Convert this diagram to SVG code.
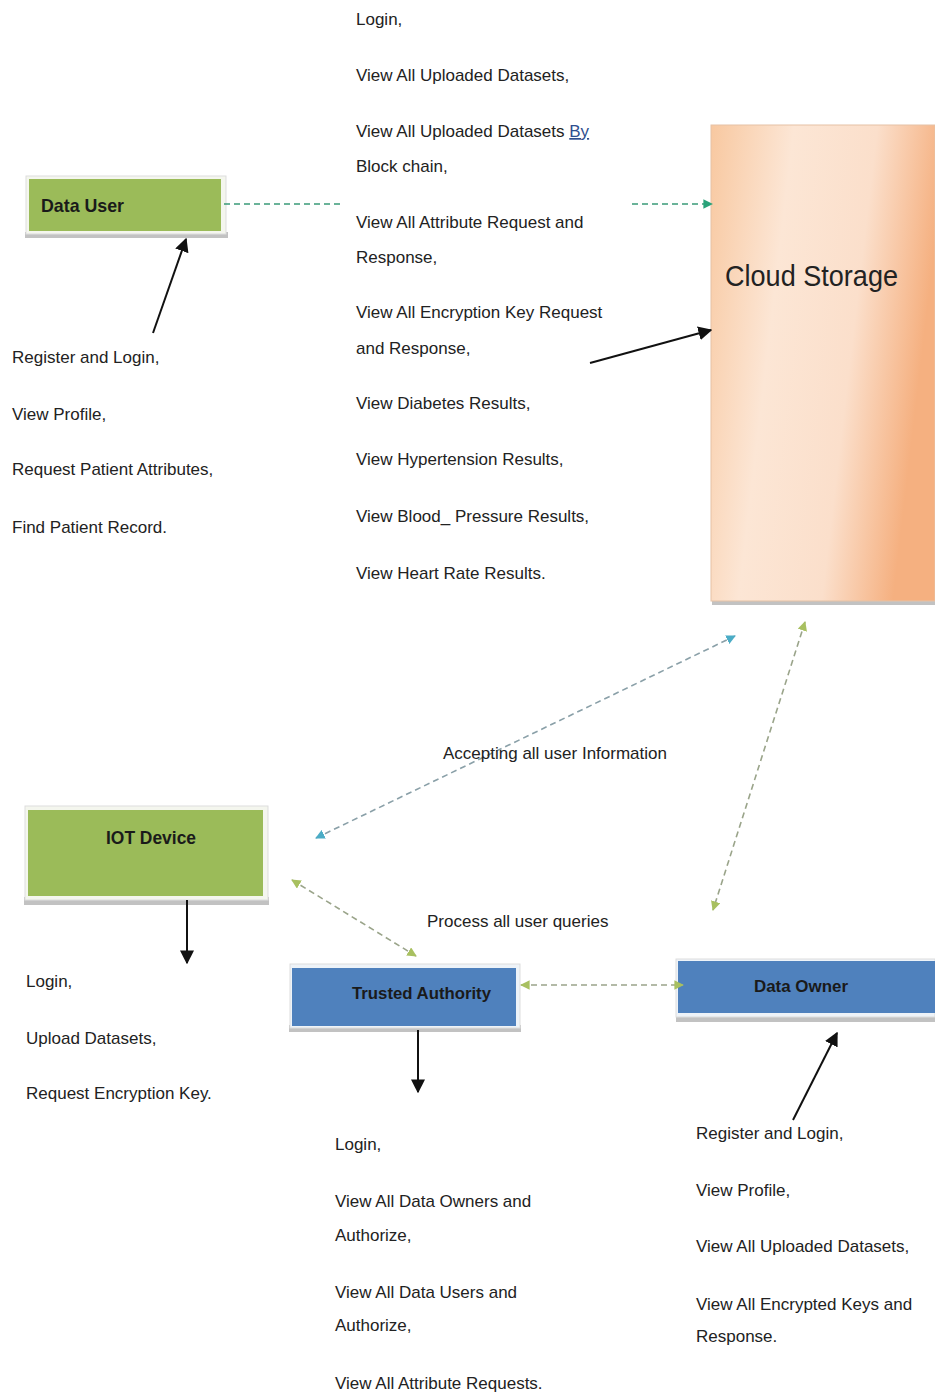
<svg xmlns="http://www.w3.org/2000/svg" width="935" height="1396" viewBox="0 0 935 1396">
<style>
.t{font-family:"Liberation Sans",Arial,sans-serif;font-size:17px;fill:#222}
.lbl{font-family:"Liberation Sans",Arial,sans-serif;font-weight:bold;fill:#1a1a1a}
.blk{stroke:#111;stroke-width:2;fill:none}
.dg{stroke:#3a9a78;stroke-width:1.6;stroke-dasharray:6 4;fill:none}
.dt{stroke:#8aa0a8;stroke-width:1.6;stroke-dasharray:6 4;fill:none}
.dol{stroke:#9aa48a;stroke-width:1.6;stroke-dasharray:6 4;fill:none}
.sh{fill:#9a9a9a;opacity:0.6}
</style>
<defs>
<marker id="ab" viewBox="0 0 10 10" refX="9" refY="5" markerWidth="7" markerHeight="7" orient="auto-start-reverse"><path d="M0,0 L10,5 L0,10 z" fill="#111"/></marker>
<marker id="ag" viewBox="0 0 10 10" refX="9" refY="5" markerWidth="6" markerHeight="6" orient="auto-start-reverse"><path d="M0,0 L10,5 L0,10 z" fill="#2aa37a"/></marker>
<marker id="at" viewBox="0 0 10 10" refX="9" refY="5" markerWidth="6" markerHeight="6" orient="auto-start-reverse"><path d="M0,0 L10,5 L0,10 z" fill="#4bacc6"/></marker>
<marker id="ao" viewBox="0 0 10 10" refX="9" refY="5" markerWidth="6" markerHeight="6" orient="auto-start-reverse"><path d="M0,0 L10,5 L0,10 z" fill="#a8c060"/></marker>
<linearGradient id="cg" x1="0" y1="0" x2="1" y2="0.25">
<stop offset="0" stop-color="#f8c8a0"/>
<stop offset="0.35" stop-color="#fce6d5"/>
<stop offset="0.7" stop-color="#fbdfcb"/>
<stop offset="1" stop-color="#f5b080"/>
</linearGradient>
</defs>

<g id="data-user">
<rect class="sh" x="25" y="232" width="203" height="6"/>
<rect x="26" y="176" width="200" height="58" fill="#f4f6ee" stroke="#ddd"/>
<rect x="29" y="179" width="192" height="52" fill="#9bbb59"/>
<text class="lbl" x="41" y="212" font-size="19" textLength="83" lengthAdjust="spacingAndGlyphs">Data User</text>
</g>

<g id="cloud-storage">
<rect class="sh" x="712" y="600" width="223" height="5"/>
<rect x="711" y="125" width="224" height="476" fill="url(#cg)" stroke="#e5c2a6"/>
<text x="725" y="286" font-family="'Liberation Sans',Arial,sans-serif" font-size="29" fill="#222" textLength="173" lengthAdjust="spacingAndGlyphs">Cloud Storage</text>
</g>

<g id="iot-device">
<rect class="sh" x="24" y="897" width="245" height="8"/>
<rect x="25" y="806" width="243" height="94" fill="#f4f6ee" stroke="#ddd"/>
<rect x="28" y="810" width="235" height="86" fill="#9bbb59"/>
<text class="lbl" x="106" y="844" font-size="19" textLength="90" lengthAdjust="spacingAndGlyphs">IOT Device</text>
</g>

<g id="trusted-authority">
<rect class="sh" x="289" y="1025" width="232" height="7"/>
<rect x="290" y="964" width="230" height="64" fill="#eef3f8" stroke="#ddd"/>
<rect x="292" y="968" width="224" height="58" fill="#4f81bd"/>
<text class="lbl" x="352" y="999" font-size="17" textLength="139" lengthAdjust="spacingAndGlyphs">Trusted Authority</text>
</g>

<g id="data-owner">
<rect class="sh" x="676" y="1015" width="259" height="7"/>
<rect x="676" y="959" width="259" height="58" fill="#eef3f8" stroke="#ddd"/>
<rect x="678" y="961" width="257" height="52" fill="#4f81bd"/>
<text class="lbl" x="754" y="992" font-size="17" textLength="94" lengthAdjust="spacingAndGlyphs">Data Owner</text>
</g>

<g id="connectors">
<line class="dg" x1="224" y1="204" x2="340" y2="204"/>
<line class="dg" x1="632" y1="204" x2="712" y2="204" marker-end="url(#ag)"/>
<line class="blk" x1="153" y1="333" x2="186" y2="239" marker-end="url(#ab)"/>
<line class="blk" x1="590" y1="363" x2="711" y2="330" marker-end="url(#ab)"/>
<line class="dt" x1="316" y1="838" x2="735" y2="636" marker-start="url(#at)" marker-end="url(#at)"/>
<line class="dol" x1="805" y1="622" x2="713" y2="910" marker-start="url(#ao)" marker-end="url(#ao)"/>
<line class="dol" x1="292" y1="880" x2="416" y2="956" marker-start="url(#ao)" marker-end="url(#ao)"/>
<line class="dol" x1="521" y1="985" x2="683" y2="985" marker-start="url(#ao)" marker-end="url(#ao)"/>
<line class="blk" x1="187" y1="900" x2="187" y2="963" marker-end="url(#ab)"/>
<line class="blk" x1="418" y1="1030" x2="418" y2="1092" marker-end="url(#ab)"/>
<line class="blk" x1="793" y1="1120" x2="837" y2="1033" marker-end="url(#ab)"/>
</g>

<g id="cloud-functions" class="t">
<text x="356" y="25">Login,</text>
<text x="356" y="81">View All Uploaded Datasets,</text>
<text x="356" y="137">View All Uploaded Datasets <tspan fill="#2f4f8f" text-decoration="underline">By</tspan></text>
<text x="356" y="172">Block chain,</text>
<text x="356" y="228">View All Attribute Request and</text>
<text x="356" y="263">Response,</text>
<text x="356" y="318">View All Encryption Key Request</text>
<text x="356" y="354">and Response,</text>
<text x="356" y="409">View Diabetes Results,</text>
<text x="356" y="465">View Hypertension Results,</text>
<text x="356" y="522">View Blood_ Pressure Results,</text>
<text x="356" y="579">View Heart Rate Results.</text>
</g>

<g id="user-functions" class="t">
<text x="12" y="363">Register and Login,</text>
<text x="12" y="420">View Profile,</text>
<text x="12" y="475">Request Patient Attributes,</text>
<text x="12" y="533">Find Patient Record.</text>
</g>

<g id="edge-labels" class="t">
<text x="443" y="759">Accepting all user Information</text>
<text x="427" y="927">Process all user queries</text>
</g>

<g id="iot-functions" class="t">
<text x="26" y="987">Login,</text>
<text x="26" y="1044">Upload Datasets,</text>
<text x="26" y="1099">Request Encryption Key.</text>
</g>

<g id="ta-functions" class="t">
<text x="335" y="1150">Login,</text>
<text x="335" y="1207">View All Data Owners and</text>
<text x="335" y="1241">Authorize,</text>
<text x="335" y="1298">View All Data Users and</text>
<text x="335" y="1331">Authorize,</text>
<text x="335" y="1389">View All Attribute Requests.</text>
</g>

<g id="owner-functions" class="t">
<text x="696" y="1139">Register and Login,</text>
<text x="696" y="1196">View Profile,</text>
<text x="696" y="1252">View All Uploaded Datasets,</text>
<text x="696" y="1310">View All Encrypted Keys and</text>
<text x="696" y="1342">Response.</text>
</g>
</svg>
